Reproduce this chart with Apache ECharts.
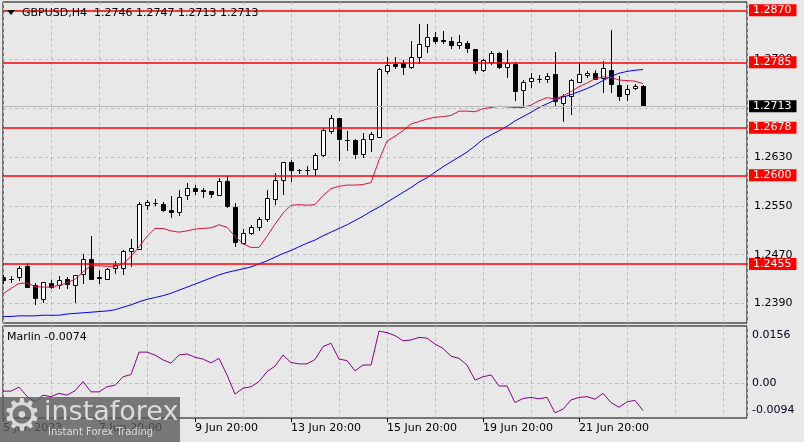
<!DOCTYPE html>
<html><head><meta charset="utf-8">
<script src="https://cdn.jsdelivr.net/npm/echarts@6/dist/echarts.min.js"></script>
<style>html,body{margin:0;padding:0;background:#E8E8E8;}#c{width:804px;height:442px;}</style>
</head><body><div id="c"></div>
<script>
const symbol = 'GBPUSD,H4';
const xLabels = ['5 Jun 2023','7 Jun 20:00','9 Jun 20:00','13 Jun 20:00','15 Jun 20:00','19 Jun 20:00','21 Jun 20:00'];
const xLabelBars = [0,12,24,36,48,60,72];
const opens = [1.2434,1.2430,1.2433,1.2451,1.2420,1.2397,1.2424,1.2421,1.2430,1.2421,
1.2438,1.2463,1.2433,1.2431,1.2448,1.2449,1.2476,1.2480,1.2551,1.2555,
1.2553,1.2543,1.2540,1.2567,1.2579,1.2576,1.2574,1.2567,1.2590,1.2548,
1.2490,1.2506,1.2516,1.2529,1.2561,1.2593,1.2622,1.2609,1.2608,1.2610,
1.2634,1.2673,1.2693,1.2658,1.2658,1.2635,1.2659,1.2663,1.2771,1.2782,
1.2783,1.2777,1.2794,1.2812,1.2826,1.2821,1.2819,1.2813,1.2817,1.2806,
1.2772,1.2786,1.2800,1.2777,1.2782,1.2740,1.2754,1.2758,1.2758,1.2766,
1.2718,1.2729,1.2753,1.2764,1.2768,1.2759,1.2773,1.2748,1.2733,1.2743,1.2746];
const highs = [1.2437,1.2435,1.2451,1.2456,1.2423,1.2426,1.2428,1.2436,1.2434,1.2437,
1.2471,1.2500,1.2445,1.2448,1.2459,1.2478,1.2496,1.2557,1.2560,1.2561,
1.2556,1.2566,1.2576,1.2588,1.2584,1.2580,1.2575,1.2595,1.2599,1.2554,
1.2512,1.2519,1.2532,1.2576,1.2604,1.2622,1.2625,1.2611,1.2615,1.2637,
1.2678,1.2699,1.2694,1.2673,1.2659,1.2670,1.2671,1.2775,1.2793,1.2793,
1.2789,1.2819,1.2848,1.2848,1.2834,1.2836,1.2826,1.2830,1.2819,1.2807,
1.2790,1.2804,1.2802,1.2805,1.2786,1.2756,1.2768,1.2764,1.2767,1.2802,
1.2733,1.2758,1.2784,1.2771,1.2772,1.2787,1.2838,1.2763,1.2748,1.2749,1.2747];
const lows = [1.2424,1.2426,1.2429,1.2417,1.2389,1.2392,1.2415,1.2415,1.2415,1.2392,
1.2423,1.2430,1.2424,1.2430,1.2440,1.2439,1.2451,1.2479,1.2545,1.2551,
1.2542,1.2532,1.2535,1.2561,1.2570,1.2564,1.2564,1.2567,1.2548,1.2484,
1.2489,1.2504,1.2510,1.2526,1.2553,1.2569,1.2591,1.2603,1.2602,1.2600,
1.2631,1.2670,1.2625,1.2641,1.2629,1.2630,1.2639,1.2662,1.2767,1.2775,
1.2766,1.2775,1.2783,1.2802,1.2817,1.2816,1.2809,1.2809,1.2802,1.2768,
1.2771,1.2782,1.2775,1.2761,1.2724,1.2712,1.2745,1.2753,1.2753,1.2713,
1.2689,1.2701,1.2752,1.2761,1.2757,1.2737,1.2737,1.2724,1.2723,1.2741,1.2713];
const closes = [1.2428,1.2430,1.2448,1.2418,1.2399,1.2425,1.2418,1.2428,1.2422,1.2437,
1.2463,1.2431,1.2432,1.2447,1.2453,1.2476,1.2481,1.2553,1.2556,1.2554,
1.2543,1.2540,1.2565,1.2580,1.2574,1.2575,1.2569,1.2590,1.2549,1.2491,
1.2506,1.2515,1.2529,1.2563,1.2592,1.2621,1.2608,1.2608,1.2609,1.2633,
1.2674,1.2693,1.2659,1.2657,1.2635,1.2660,1.2667,1.2774,1.2780,1.2779,
1.2778,1.2794,1.2815,1.2826,1.2820,1.2819,1.2813,1.2818,1.2808,1.2773,
1.2789,1.2800,1.2778,1.2783,1.2738,1.2753,1.2760,1.2758,1.2763,1.2722,
1.2729,1.2756,1.2766,1.2768,1.2758,1.2775,1.2749,1.2730,1.2742,1.2746,1.2713];
const maRed = [1.2406,1.2415,1.2423,1.2424,1.2418,1.2417,1.2417,1.2420,1.2424,1.2430,
1.2442,1.2452,1.2452,1.2451,1.2451,1.2455,1.2467,1.2483,1.2500,1.2513,
1.2513,1.2509,1.2507,1.2509,1.2512,1.2513,1.2514,1.2519,1.2515,1.2500,
1.2488,1.2482,1.2482,1.2500,1.2520,1.2538,1.2551,1.2552,1.2551,1.2552,
1.2567,1.2578,1.2582,1.2584,1.2584,1.2585,1.2588,1.2625,1.2656,1.2664,
1.2673,1.2684,1.2688,1.2692,1.2695,1.2696,1.2698,1.2705,1.2705,1.2704,
1.2709,1.2711,1.2713,1.2712,1.2711,1.2711,1.2715,1.2722,1.2727,1.2725,
1.2730,1.2737,1.2745,1.2751,1.2758,1.2761,1.2760,1.2756,1.2755,1.2754,1.2750];
const maBlue = [1.2369,1.2369,1.2370,1.2370,1.2370,1.2371,1.2371,1.2371,1.2373,1.2374,
1.2375,1.2376,1.2377,1.2378,1.2380,1.2384,1.2388,1.2393,1.2397,1.2400,
1.2403,1.2407,1.2412,1.2417,1.2422,1.2427,1.2432,1.2437,1.2441,1.2444,
1.2447,1.2450,1.2455,1.2460,1.2466,1.2472,1.2477,1.2483,1.2489,1.2494,
1.2501,1.2507,1.2513,1.2519,1.2526,1.2533,1.2541,1.2548,1.2556,1.2564,
1.2572,1.2580,1.2589,1.2596,1.2605,1.2614,1.2622,1.2630,1.2638,1.2648,
1.2659,1.2666,1.2673,1.2680,1.2689,1.2696,1.2703,1.2711,1.2717,1.2723,
1.2728,1.2732,1.2737,1.2742,1.2748,1.2755,1.2762,1.2767,1.2770,1.2772,1.2773];
const marlin = [-0.0021,-0.0021,-0.0010,-0.0035,-0.0050,-0.0032,-0.0036,-0.0027,-0.0032,-0.0020,
0.0005,-0.0023,-0.0023,-0.0009,-0.0005,0.0018,0.0024,0.0085,0.0085,0.0077,
0.0064,0.0055,0.0077,0.0080,0.0071,0.0066,0.0056,0.0068,0.0023,-0.0029,
-0.0013,-0.0009,0.0005,0.0032,0.0047,0.0077,0.0057,0.0053,0.0053,0.0065,
0.0100,0.0109,0.0066,0.0062,0.0034,0.0050,0.0050,0.0142,0.0138,0.0130,
0.0116,0.0118,0.0125,0.0123,0.0107,0.0095,0.0074,0.0068,0.0050,0.0009,
0.0018,0.0023,-0.0007,-0.0007,-0.0052,-0.0041,-0.0038,-0.0042,-0.0038,-0.0080,
-0.0070,-0.0045,-0.0038,-0.0036,-0.0043,-0.0027,-0.0052,-0.0065,-0.0050,-0.0046,-0.0074];
const levels = [1.2870,1.2785,1.2678,1.2600,1.2455];
const bid = 1.2713;
const priceTicks = [1.2390,1.2470,1.2550,1.2630,1.2710,1.2790,1.2870];
const marlinTicks = [-0.0094,0,0.0156];

const FONT = '"DejaVu Sans"';
const last = opens.length - 1;
const candleData = opens.map((o,i)=>[i,o,closes[i],lows[i],highs[i]]);
const gridLine = {show:true, lineStyle:{color:'#BDBDBD', width:1, type:[3,3]}};

const chart = echarts.init(document.getElementById('c'), null, {renderer:'canvas'});
const option = {
  animation:false,
  backgroundColor:'#E8E8E8',
  textStyle:{fontFamily:FONT},
  grid:[
    {left:3, top:2, width:744, height:321, show:true, borderColor:'#000', borderWidth:1},
    {left:3, top:326, width:744, height:92, show:true, borderColor:'#000', borderWidth:1}
  ],
  xAxis:[
    {type:'value', gridIndex:0, min:0, max:93, interval:6, axisLine:{show:false}, axisTick:{show:false}, axisLabel:{show:false}, splitLine:gridLine},
    {type:'value', gridIndex:1, min:0, max:93, interval:6, axisLine:{show:false}, axisTick:{show:false}, axisLabel:{show:false}, splitLine:gridLine},
    {type:'value', gridIndex:1, min:0, max:93, position:'bottom', axisLine:{show:false},
     axisTick:{show:true, customValues:xLabelBars, length:4, lineStyle:{color:'#000'}},
     axisLabel:{show:true, customValues:xLabelBars, formatter:v=>xLabels[xLabelBars.indexOf(v)], align:'left', margin:5, color:'#000', fontSize:11, fontFamily:FONT},
     splitLine:{show:false}}
  ],
  yAxis:[
    {type:'value', gridIndex:0, position:'right', min:1.23583, max:1.28836, axisLine:{show:false},
     axisTick:{show:false, customValues:priceTicks},
     axisLabel:{customValues:priceTicks, formatter:v=>v.toFixed(4), align:'left', margin:7, color:'#000', fontSize:11, fontFamily:FONT},
     splitLine:gridLine},
    {type:'value', gridIndex:1, position:'right', min:-0.0094, max:0.0156, axisLine:{show:false},
     axisTick:{show:false, customValues:[0]},
     axisLabel:{customValues:marlinTicks, align:'left', margin:5, color:'#000020', fontSize:11, fontFamily:FONT,
       formatter:v=> v>0 ? '{t|'+v.toFixed(4)+'}' : (v<0 ? '{b|'+v.toFixed(4)+'}' : '0.00'),
       rich:{t:{padding:[18,0,0,0], fontSize:11, color:'#000020'}, b:{padding:[0,0,16,0], fontSize:11, color:'#000020'}}},
     splitLine:gridLine}
  ],
  series:[
    {type:'custom', xAxisIndex:0, yAxisIndex:0, clip:true, z:3, data:candleData,
     encode:{x:0, y:[1,2,3,4]},
     renderItem:function(params, api){
       const i = api.value(0);
       const pO = api.coord([i, api.value(1)]);
       const yC = api.coord([i, api.value(2)])[1];
       const yL = api.coord([i, api.value(3)])[1];
       const yH = api.coord([i, api.value(4)])[1];
       const cx = Math.round(pO[0]);
       const up = api.value(2) >= api.value(1);
       const top = Math.round(Math.min(pO[1], yC));
       const bot = Math.round(Math.max(pO[1], yC));
       return {type:'group', children:[
         {type:'line', shape:{x1:cx+0.5, y1:Math.round(yH), x2:cx+0.5, y2:Math.round(yL)+1}, style:{stroke:'#000', lineWidth:1}},
         {type:'rect', shape:{x:cx-1.5, y:top+0.5, width:4, height:Math.max(0, bot-top)}, style:{fill:up?'#FFFFFF':'#000000', stroke:'#000', lineWidth:1}}
       ]};
     }},
    {type:'line', xAxisIndex:0, yAxisIndex:0, z:4, showSymbol:false, data:maBlue.map((v,i)=>[i,v]), lineStyle:{color:'#0000FF', width:1}},
    {type:'line', xAxisIndex:0, yAxisIndex:0, z:4, showSymbol:false, data:maRed.map((v,i)=>[i,v]), lineStyle:{color:'#DC143C', width:1},
     markLine:{silent:true, symbol:'none', animation:false, precision:4,
       data:[{yAxis:bid, lineStyle:{color:'#B8B8B8', width:1, type:'solid'},
              label:{show:true, position:'end', distance:2, formatter:p=>Number(p.value).toFixed(4), backgroundColor:'#000', color:'#fff', padding:[1,5,0,4], fontSize:11, fontFamily:FONT}}]
         .concat(levels.map(v=>({yAxis:v, lineStyle:{color:'#FF0000', width:1.5, type:'solid'},
              label:{show:true, position:'end', distance:2, formatter:p=>Number(p.value).toFixed(4), backgroundColor:'#FF0000', color:'#fff', padding:[1,5,0,4], fontSize:11, fontFamily:FONT}})))
     }},
    {type:'line', xAxisIndex:1, yAxisIndex:1, z:4, showSymbol:false, data:marlin.map((v,i)=>[i,v]), lineStyle:{color:'#8B008B', width:1}}
  ],
  graphic:[
    {type:'polygon', shape:{points:[[7,10],[15,10],[11,15]]}, style:{fill:'#000'}, z:10},
    {type:'text', x:22, y:13, z:10, style:{text: symbol+'  '+[opens[last],highs[last],lows[last],closes[last]].map(v=>v.toFixed(4)).join(' '), font:'11px '+FONT, fill:'#000', verticalAlign:'middle'}},
    {type:'text', x:7, y:337, z:10, style:{text:'Marlin '+marlin[last].toFixed(4), font:'11px '+FONT, fill:'#000', verticalAlign:'middle'}},
    {type:'rect', z:20, shape:{x:0, y:397, width:180, height:45}, style:{fill:'rgba(90,90,90,0.8)'}},
    {type:'text', z:21, x:22, y:419, style:{text:'\u2699', font:'44px '+FONT, fill:'#D9D9D9', align:'center', verticalAlign:'middle'}},
    {type:'text', z:21, x:44, y:413, style:{text:'instaforex', font:'27px '+FONT, fill:'#DCDCDC', verticalAlign:'middle'}},
    {type:'text', z:21, x:48, y:432, style:{text:'Instant Forex Trading', font:'10px '+FONT, fill:'#DCDCDC', verticalAlign:'middle'}}
  ]
};
chart.setOption(option);
</script></body></html>
